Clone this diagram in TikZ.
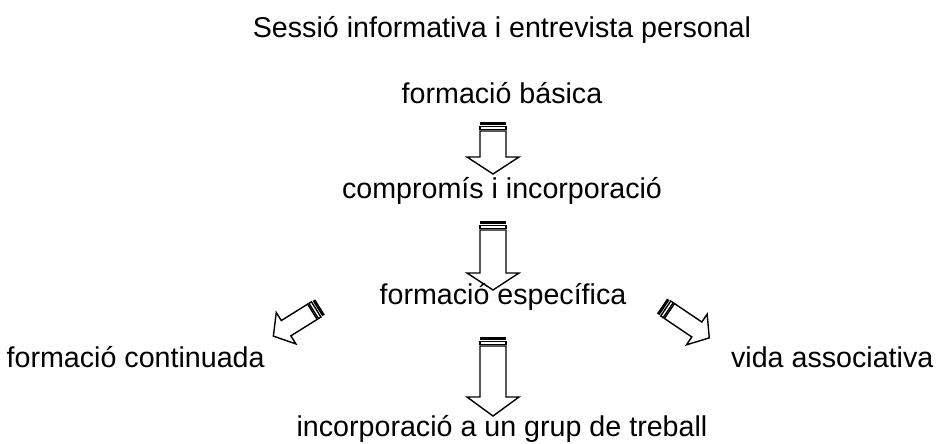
\documentclass[tikz,border=0pt]{standalone}
\usepackage{fontspec}
\setmainfont{Liberation Sans}
\usepackage{tikz}
\usetikzlibrary{positioning}

\tikzset{
    label text/.style={inner sep=0pt, anchor=base, font=\fontsize{16.3}{19}\selectfont},
    pics/striped arrow/.style n args={4}{code={
        % tail stripes
        \fill (0,-#2) rectangle (3,#2);
        \draw (4.5,-#2) rectangle (7.5,#2);
        % shaft and head
        \draw (9,-#2) -- (#1-#4,-#2) -- (#1-#4,-#3) -- (#1,0)
              -- (#1-#4,#3) -- (#1-#4,#2) -- (9,#2) -- cycle;
    }}
}

\begin{document}
\begin{tikzpicture}[x=0.02cm, y=-0.02cm, line width=0.8pt]
    \useasboundingbox (0,0) rectangle (940,443);

    % Texts
    \node[label text] (sessio) at (502,37) {Sessió informativa i entrevista personal};
    \node[label text] (basica) at (502,103) {formació básica};
    \node[label text] (compromis) at (502,198) {compromís i incorporació};
    \node[label text] (especifica) at (503,304) {formació específica};
    \node[label text, anchor=base west] (continuada) at (6,367) {formació continuada};
    \node[label text, anchor=base east] (associativa) at (934,367) {vida associativa};
    \node[label text] (grup) at (502,436) {incorporació a un grup de treball};

    % Striped arrows
    \pic[rotate=-90] at (493,122) {striped arrow={52}{13}{26}{17}};
    \pic[rotate=-90] at (493,221) {striped arrow={69}{13}{26}{17}};
    \pic[rotate=-90] at (493,337) {striped arrow={79}{13}{26}{19}};
    \pic[rotate=212] at (320,307) {striped arrow={55}{9}{18.5}{15}};
    \pic[rotate=-34] at (662,306) {striped arrow={57}{9}{18.5}{15}};
\end{tikzpicture}
\end{document}
